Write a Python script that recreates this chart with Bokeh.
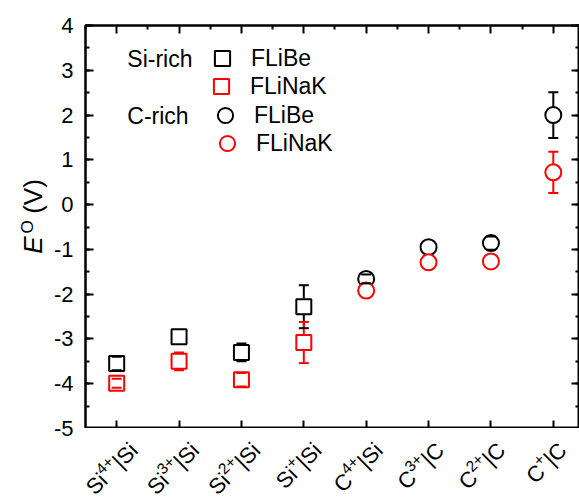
import numpy as np
from math import pi, sqrt
from bokeh.plotting import figure
from bokeh.layouts import row, column
from bokeh.models import (ColumnDataSource, FixedTicker, SingleIntervalTicker, LinearAxis,
                          Whisker, TeeHead, Label, Legend, LegendItem, Range1d,
                          CustomJSTickFormatter)
from bokeh.embed import file_html
from bokeh.resources import INLINE

# ---------------- data ----------------
categories = ["Si⁴⁺|Si", "Si³⁺|Si", "Si²⁺|Si", "Si⁺|Si", "C⁴⁺|Si", "C³⁺|C", "C²⁺|C", "C⁺|C"]
si_cats = categories[:4]
c_cats = categories[4:]

si_flibe = [-3.55, -2.95, -3.30, -2.28]
si_flibe_err = [0.15, np.nan, 0.20, 0.48]
si_flinak = [-3.99, -3.50, -3.91, -3.08]
si_flinak_err = [0.10, 0.20, 0.15, 0.46]

c_flibe = [-1.66, -0.95, -0.86, 2.00]
c_flibe_err = [0.10, np.nan, 0.15, 0.51]
c_flinak = [-1.92, -1.29, -1.27, 0.72]
c_flinak_err = [np.nan, np.nan, np.nan, 0.46]

y_ticks = [-5, -4, -3, -2, -1, 0, 1, 2, 3, 4]

FONT = "Liberation Sans"

def xpos(cats):
    return [categories.index(c) + 1 for c in cats]

# ---------------- layout geometry ----------------
STRIP_W = 76          # left strip: y title + y tick labels (full height, never clipped)
MAIN_W = 579 - STRIP_W
FRAME_LEFT = 85
TOP = 25
FRAME_H = 403
MAIN_H = TOP + FRAME_H
BOTTOM_H = 501 - MAIN_H
Y0, Y1 = -5, 4
X0, X1 = 0.5, 8.42
PPY = FRAME_H / (Y1 - Y0)

yrange = Range1d(Y0, Y1)
xrange = Range1d(X0, X1)
p = figure(width=MAIN_W, height=MAIN_H, x_range=xrange, y_range=yrange,
           output_backend="svg", toolbar_location=None,
           min_border_left=FRAME_LEFT - STRIP_W, min_border_right=0, min_border_top=TOP,
           min_border_bottom=0)
p.grid.visible = False
p.outline_line_color = "black"
p.outline_line_width = 2

n = len(categories)
major_x = list(range(1, n + 1))
minor_x = [k + 0.5 for k in range(0, n + 1)]

def style_axis(ax):
    ax.axis_line_width = 2
    ax.major_tick_line_width = 2
    ax.minor_tick_line_width = 2
    ax.major_tick_in = 8
    ax.major_tick_out = 0
    ax.minor_tick_in = 4
    ax.minor_tick_out = 0
    ax.axis_line_color = "black"
    ax.major_tick_line_color = "black"
    ax.minor_tick_line_color = "black"
    ax.formatter = CustomJSTickFormatter(code="return ''")
    ax.major_label_standoff = 0

yl = p.yaxis[0]
yl.ticker = SingleIntervalTicker(interval=1, num_minor_ticks=2)
style_axis(yl)
xb = p.xaxis[0]
xb.ticker = FixedTicker(ticks=major_x, minor_ticks=[])
style_axis(xb)
yr = LinearAxis(ticker=SingleIntervalTicker(interval=1, num_minor_ticks=2))
style_axis(yr)
p.add_layout(yr, "right")
xt = LinearAxis(ticker=FixedTicker(ticks=major_x, minor_ticks=minor_x))
style_axis(xt)
p.add_layout(xt, "above")

def series(cats, vals, errs, color, marker, size):
    x = xpos(cats)
    src = ColumnDataSource(dict(x=x, y=vals))
    e = np.array(errs, dtype=float)
    v = np.array(vals, dtype=float)
    keep = ~np.isnan(e)
    wsrc = ColumnDataSource(dict(x=np.array(x)[keep], upper=(v + e)[keep], lower=(v - e)[keep]))
    stem = Whisker(base="x", upper="upper", lower="lower", source=wsrc, dimension="height",
                   line_color=color, line_width=2, upper_head=None, lower_head=None, level="underlay")
    caps = Whisker(base="x", upper="upper", lower="lower", source=wsrc, dimension="height",
                   line_alpha=0, level="annotation",
                   upper_head=TeeHead(size=10, line_width=2, line_color=color),
                   lower_head=TeeHead(size=10, line_width=2, line_color=color))
    p.add_layout(stem)
    p.add_layout(caps)
    return p.scatter("x", "y", source=src, marker=marker, size=size, line_color=color,
                     line_width=2, fill_color="white")

r1 = series(si_cats, si_flibe, si_flibe_err, "black", "square", 15)
r2 = series(si_cats, si_flinak, si_flinak_err, "red", "square", 15)
r3 = series(c_cats, c_flibe, c_flibe_err, "black", "circle", 16)
r4 = series(c_cats, c_flinak, c_flinak_err, "red", "circle", 16)

legend_specs = [("FLiBe", r1, (118, 351)), ("FLiNaK", r2, (117, 323)),
                ("FLiBe", r3, (121, 294)), ("FLiNaK", r4, (123, 266))]
for lab, rend, loc in legend_specs:
    p.add_layout(Legend(items=[LegendItem(label=lab, renderers=[rend])], location=loc,
                        glyph_width=38, glyph_height=38, padding=0, margin=0, spacing=0,
                        border_line_alpha=0, background_fill_alpha=0,
                        label_text_font=FONT, label_text_font_size="23px",
                        label_text_color="black", label_standoff=10))

for txt, yv in (("Si-rich", 3.26), ("C-rich", 1.99)):
    p.add_layout(Label(x=1.17, y=yv, text=txt, text_font=FONT, text_font_size="23px",
                       text_align="left", text_baseline="middle", text_color="black"))

# ---------------- left strip: y tick labels and y title ----------------
H = MAIN_H + BOTTOM_H
lf = figure(width=STRIP_W, height=H, x_range=Range1d(0, STRIP_W),
            y_range=Range1d(Y0 - BOTTOM_H / PPY, Y1 + TOP / PPY),
            output_backend="svg", toolbar_location=None,
            min_border_left=0, min_border_right=0, min_border_top=0, min_border_bottom=0)
lf.axis.visible = False
lf.grid.visible = False
lf.outline_line_color = None

for v in y_ticks:
    lf.add_layout(Label(x=FRAME_LEFT - 12, y=v, text=str(v), text_font=FONT,
                        text_font_size="22px", text_color="black",
                        text_align="right", text_baseline="middle"))

def ydata(py):
    return Y1 - (py - TOP) / PPY

for txt, bx, py, fs, style in (("E", 32, 244.5, "26px", "italic"),
                               ("O", 27, 226.5, "17px", "normal"),
                               ("(V)", 32, 196, "26px", "normal")):
    lf.add_layout(Label(x=bx, y=ydata(py), text=txt, angle=pi / 2, text_font=FONT,
                        text_font_size=fs, text_font_style=style, text_color="black",
                        text_align="center", text_baseline="alphabetic"))

# ---------------- category label strip (real superscripts) ----------------
ppu = (579 - FRAME_LEFT) / (X1 - X0)
bf = figure(width=MAIN_W, height=BOTTOM_H,
            x_range=Range1d(X0 - (FRAME_LEFT - STRIP_W) / ppu, X1),
            y_range=Range1d(-BOTTOM_H, 0), output_backend="svg", toolbar_location=None,
            min_border_left=0, min_border_right=0, min_border_top=0, min_border_bottom=0)
bf.axis.visible = False
bf.grid.visible = False
bf.outline_line_color = None

SUP = {"⁴": "4", "³": "3", "²": "2", "⁺": "+"}
EM = {"S": 0.667, "i": 0.222, "C": 0.722, "|": 0.26, "4": 0.556, "3": 0.556,
      "2": 0.556, "+": 0.584}
BASE_FS, SUP_FS, RAISE = 22, 15.5, 7.2
DX, DY = 9, 18           # end of label baseline relative to the tick (screen px, y down)
c45 = sqrt(0.5)

def width(s, fs):
    return sum(EM.get(ch, 0.6) for ch in s) * fs

for k, cat in enumerate(categories, start=1):
    i0 = min(i for i, ch in enumerate(cat) if ch in SUP)
    i1 = max(i for i, ch in enumerate(cat) if ch in SUP) + 1
    base, sup, tail = cat[:i0], "".join(SUP[ch] for ch in cat[i0:i1]), cat[i1:]
    wt, ws = width(tail, BASE_FS), width(sup, SUP_FS)
    pieces = [(tail, BASE_FS, DX, DY),
              (sup, SUP_FS, DX - (wt + RAISE) * c45, DY + (wt - RAISE) * c45),
              (base, BASE_FS, DX - (wt + ws) * c45, DY + (wt + ws) * c45)]
    for txt, fs, ox, oy in pieces:
        bf.add_layout(Label(x=k, y=0, text=txt, angle=pi / 4, x_offset=ox, y_offset=-oy,
                            text_font=FONT, text_font_size=f"{fs}px", text_color="black",
                            text_align="right", text_baseline="alphabetic"))

layout = row(lf, column(p, bf))
open("out.html", "w").write(file_html(layout, INLINE))
